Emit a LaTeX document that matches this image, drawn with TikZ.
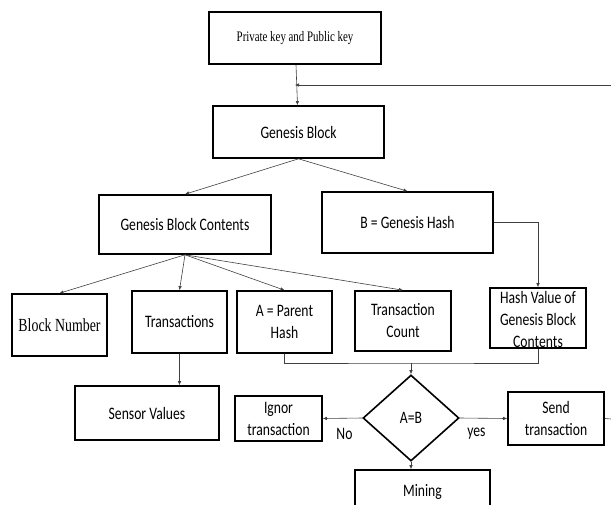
\documentclass[tikz,border=0pt]{standalone}
\usepackage{fontspec}
\setmainfont{Carlito}[FakeStretch = 0.78]
\newfontfamily\timesfont{Liberation Serif}[FakeStretch = 0.75]
\usetikzlibrary{arrows.meta,shapes.geometric}

\begin{document}
\begin{tikzpicture}[x = 1pt, y = -1pt,
        font = \fontsize{17.5}{22}\selectfont,
        box/.style = {draw, line width = 1.6pt, inner sep = 0pt, align = center},
        link/.style = {line width = 0.6pt, draw = black!75, -{Latex[length = 4pt, width = 3.5pt]}},
        wire/.style = {line width = 0.6pt, draw = black!75}]
    \useasboundingbox (0, 0) rectangle (611, 504);
    \clip (0, 0) rectangle (611, 504);
    % top part
    \node[box, minimum width = 172, minimum height = 52, font = \timesfont\fontsize{14.5}{16}\selectfont] (pk) at (295, 38) {Private key and Public key};
    \node[box, minimum width = 171, minimum height = 52] (gb) at (298.5, 132) {Genesis Block};
    \node[box, minimum width = 172, minimum height = 59] (gbc) at (185, 224.5) {Genesis Block Contents};
    \node[box, minimum width = 171, minimum height = 61] (bh) at (407.5, 222.5) {B = Genesis Hash};
    % contents row
    \node[box, minimum width = 95, minimum height = 62, font = \timesfont\fontsize{18.5}{20}\selectfont] (bn) at (59.5, 325) {Block Number};
    \node[box, minimum width = 95, minimum height = 62] (tr) at (179.5, 322) {Transactions};
    \node[box, minimum width = 95, minimum height = 62] (ah) at (284.5, 322) {A = Parent\\Hash};
    \node[box, minimum width = 96, minimum height = 60] (tc) at (403, 321) {Transaction\\Count};
    \node[box, minimum width = 96, minimum height = 60] (hv) at (538, 318) {};
    \node[align = center] (hvt) at (538, 319) {Hash Value of\\Genesis Block\\Contents};
    % bottom part
    \node[box, minimum width = 144, minimum height = 54] (sv) at (147, 413) {Sensor Values};
    \node[box, shape = diamond, minimum width = 96, minimum height = 86] (dm) at (411, 418) {A=B};
    \node[box, minimum width = 87, minimum height = 45] (ig) at (278.5, 418.5) {Ignor\\transaction};
    \node[box, minimum width = 96, minimum height = 53] (st) at (556, 418.5) {Send\\transaction};
    \node[box, minimum width = 135, minimum height = 44] (mn) at (422.5, 492) {Mining};
    \coordinate (fb) at (611, 85);
    \coordinate (jn) at (411, 363);
    \coordinate (out) at (611, 419);
    % connectors
    \draw[link] (pk) -- (gb);
    \draw[link] (fb) -- (fb -| pk.south);
    \draw[link] (gb.south) -- (gbc.north);
    \draw[link] (gb.south) -- (bh.north);
    \draw[link] (gbc.south) -- (bn.north);
    \draw[link] (gbc.south) -- (tr.north);
    \draw[link] (gbc.south) -- (ah.north);
    \draw[link] (gbc.south) -- (tc.north);
    \draw[link] (bh.east) -| (hv.north);
    \draw[link] (tr.south) -- (tr.south |- sv.north);
    \draw[wire] (ah.south) |- (jn) -| (hv.south);
    \draw[link] (jn) -- (dm);
    \draw[link] (dm.west) -- node[pos = 0.45, below = 6pt] {No} (ig.east);
    \draw[link] (dm.east) -- node[pos = 0.35, below = 6pt] {yes} (st.west);
    \draw[link] (dm.south) -- (dm.south |- mn.north);
    \draw[wire] (st.east) -- (out);
\end{tikzpicture}
\end{document}
